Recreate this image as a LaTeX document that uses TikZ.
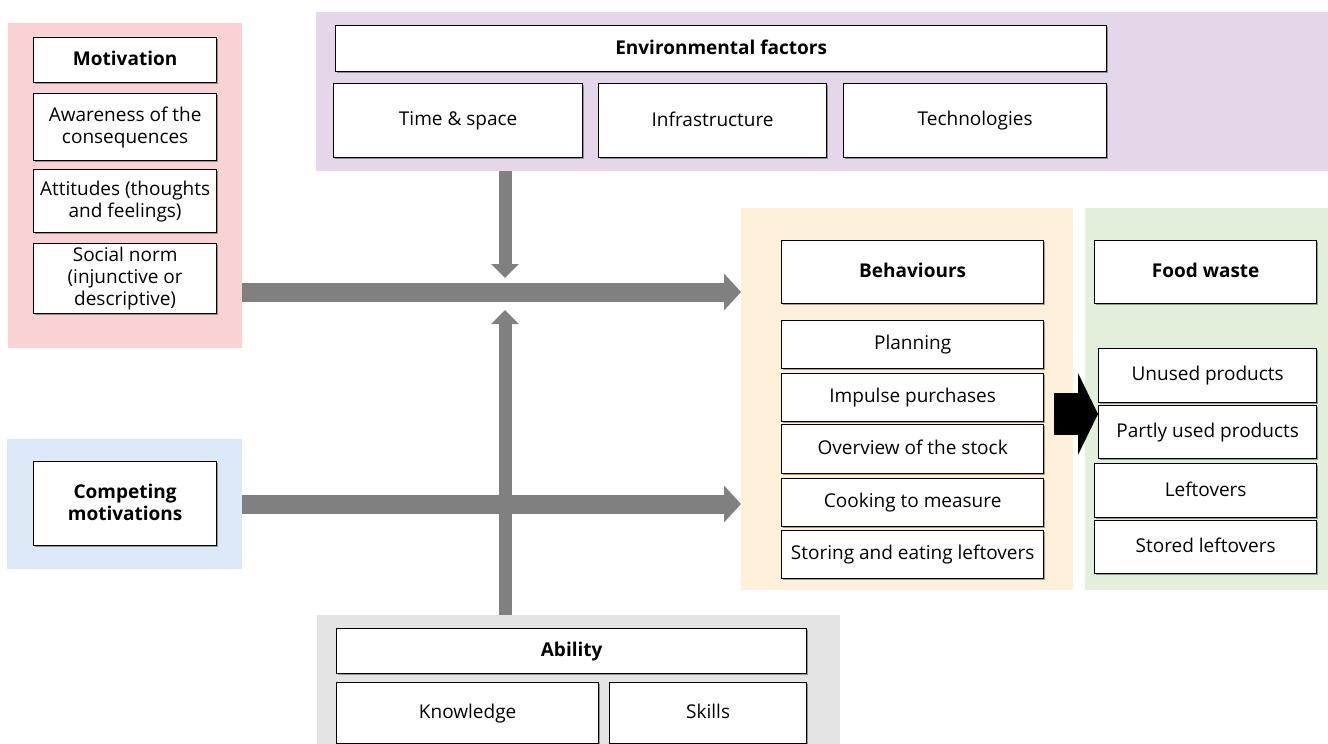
\documentclass[tikz,border=0pt]{standalone}
\usepackage{fontspec}
\setmainfont{Open Sans}
\usetikzlibrary{arrows.meta,positioning,shadows}

\definecolor{motivbg}{HTML}{F9D3D4}
\definecolor{envbg}{HTML}{E4D7EA}
\definecolor{behavbg}{HTML}{FEF0D9}
\definecolor{wastebg}{HTML}{E3EEDB}
\definecolor{compbg}{HTML}{DDE9F6}
\definecolor{abilbg}{HTML}{E4E4E4}
\definecolor{arrowgray}{HTML}{808080}
\newcommand{\boxstrut}{\rule[-3.5pt]{0pt}{17pt}}

\begin{document}
\begin{tikzpicture}[x=1pt,y=-1pt,
  panel/.style={anchor=north west, inner sep=0pt, outer sep=0pt},
  box/.style={draw, line width=1.3pt, fill=white, anchor=north west, inner sep=0pt,
    align=center, font=\fontsize{19}{22}\selectfont,
    execute at begin node=\boxstrut, execute at end node=\boxstrut,
    drop shadow={shadow xshift=1pt, shadow yshift=-1pt, fill=black, opacity=0.35}},
  bigarrow/.style={draw=arrowgray, line width=19pt, -{Triangle[width=36pt,length=17pt]}},
  vertarrow/.style={draw=arrowgray, line width=13pt, -{Triangle[width=27pt,length=14pt]}},
  blackarrow/.style={draw=black, line width=42pt, -{Triangle[width=81pt,length=20pt]}}]
  \useasboundingbox (0,0) rectangle (1328,744);

  % coloured panels
  \node[panel, fill=motivbg, minimum width=234pt, minimum height=325pt] (motpanel) at (8,23) {};
  \node[panel, fill=envbg, minimum width=1012pt, minimum height=159pt] (envpanel) at (316,12) {};
  \node[panel, fill=behavbg, minimum width=332pt, minimum height=382pt] (behpanel) at (741,208) {};
  \node[panel, fill=wastebg, minimum width=243pt, minimum height=382pt] (wastepanel) at (1085,208) {};
  \node[panel, fill=compbg, minimum width=235pt, minimum height=130pt] (comppanel) at (7,439) {};
  \node[panel, fill=abilbg, minimum width=523pt, minimum height=129pt] (abpanel) at (317,615) {};

  % motivation
  \node[box, minimum width=183pt, minimum height=45pt] (motiv) at (33,37) {\textbf{Motivation}};
  \node[box, minimum width=183pt, minimum height=67pt] (aware) at (33,93) {Awareness of the\\consequences};
  \node[box, minimum width=183pt, minimum height=63pt] (attit) at (33,169) {Attitudes (thoughts\\and feelings)};
  \node[box, minimum width=183pt, minimum height=70pt] (social) at (33,243) {Social norm\\(injunctive or\\descriptive)};

  % environment
  \node[box, minimum width=771pt, minimum height=46pt] (envfac) at (335,25) {\textbf{Environmental factors}};
  \node[box, minimum width=249pt, minimum height=74pt] (timesp) at (333,83) {Time \& space};
  \node[box, minimum width=228pt, minimum height=74pt] (infra) at (598,83) {Infrastructure};
  \node[box, minimum width=263pt, minimum height=74pt] (techno) at (843,83) {Technologies};

  % competing motivations
  \node[box, minimum width=183pt, minimum height=84pt] (compet) at (33,461) {\textbf{Competing}\\\textbf{motivations}};

  % behaviours
  \node[box, minimum width=262pt, minimum height=63pt] (behav) at (781,240) {\textbf{Behaviours}};
  \node[box, minimum width=262pt, minimum height=48pt] (plan) at (781,320) {Planning};
  \node[box, minimum width=262pt, minimum height=48pt] (impulse) at (781,373) {Impulse purchases};
  \node[box, minimum width=262pt, minimum height=49pt] (stock) at (781,424) {Overview of the stock};
  \node[box, minimum width=262pt, minimum height=48pt] (cook) at (781,478) {Cooking to measure};
  \node[box, minimum width=262pt, minimum height=48pt] (store) at (781,530) {Storing and eating leftovers};

  % arrows
  \coordinate (upper) at (0,292);
  \coordinate (lower) at (0,504);
  \coordinate (downtip) at (505,278);
  \coordinate (uptip) at (505,310);
  \coordinate (bstart) at (1054,414);
  \draw[vertarrow] (envpanel.south -| downtip) -- (downtip);
  \draw[vertarrow] (abpanel.north -| uptip) -- (uptip);
  \draw[bigarrow] (motpanel.east |- upper) -- (behpanel.west |- upper);
  \draw[bigarrow] (comppanel.east |- lower) -- (behpanel.west |- lower);

  % food waste
  \node[box, minimum width=222pt, minimum height=63pt] (waste) at (1094,240) {\textbf{Food waste}};
  \node[box, minimum width=218pt, minimum height=54pt] (unused) at (1098,348) {Unused products};
  \node[box, minimum width=218pt, minimum height=53pt] (partly) at (1098,405) {Partly used products};
  \node[box, minimum width=222pt, minimum height=54pt] (leftov) at (1094,463) {Leftovers};
  \node[box, minimum width=222pt, minimum height=53pt] (stored) at (1094,520) {Stored leftovers};
  \draw[blackarrow] (bstart) -- (bstart -| partly.west);

  % ability
  \node[box, minimum width=470pt, minimum height=45pt] (ability) at (336,628) {\textbf{Ability}};
  \node[box, minimum width=262pt, minimum height=61pt] (knowl) at (336,682) {Knowledge};
  \node[box, minimum width=197pt, minimum height=61pt] (skills) at (609,682) {Skills};
\end{tikzpicture}
\end{document}
